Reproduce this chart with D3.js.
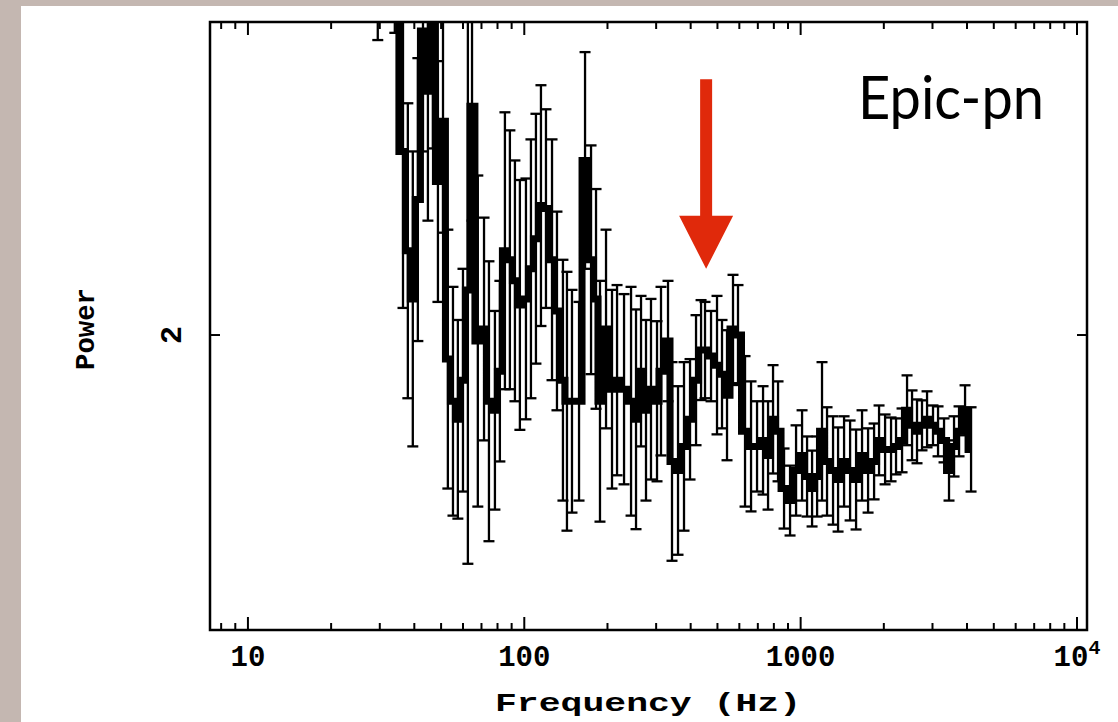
<!DOCTYPE html>
<html>
<head>
<meta charset="utf-8">
<script src="https://cdn.jsdelivr.net/npm/d3@7"></script>
<style>
  html, body { margin: 0; padding: 0; background: #c4b7b1; }
  svg { display: block; }
</style>
</head>
<body>
<svg id="chart" width="1118" height="722"></svg>
<script>
// Power density spectrum, EPIC-pn light curve
const freq = [29.5, 34.0, 36.4, 37.9, 39.5, 41.2, 43.0, 44.8, 46.7, 48.7,
  50.8, 52.9, 55.2, 57.5, 60.0, 62.5, 64.7, 67.9, 71.5, 74.5,
  78.3, 81.6, 85.1, 88.7, 92.5, 96.4, 101.4, 105.7, 110.2, 114.9,
  119.8, 126.0, 131.3, 138.0, 142.7, 148.8, 157.8, 165.9, 174.4, 181.8,
  187.9, 197.6, 207.7, 216.6, 229.6, 243.4, 253.7, 264.5, 275.7, 287.4,
  302.2, 312.4, 331.2, 342.4, 360.0, 378.4, 397.9, 418.3, 436.2, 450.8,
  474.0, 498.2, 519.4, 541.5, 569.2, 593.4, 629.2, 661.5, 695.4, 731.1,
  762.2, 794.6, 828.4, 870.9, 915.6, 962.6, 1012, 1055, 1100, 1147,
  1195, 1246, 1310, 1366, 1436, 1510, 1587, 1668, 1754, 1844,
  1922, 2021, 2124, 2214, 2328, 2427, 2530, 2637, 2749, 2867,
  3013, 3142, 3303, 3443, 3590, 3743, 3935, 4137];

const power = [2.116, 2.118, 2.061, 2.028, 2.012, 2.045, 2.101, 2.081, 2.108, 2.051,
  2.071, 1.992, 1.978, 1.972, 1.985, 2.015, 2.076, 1.998, 2.002, 1.978,
  1.975, 1.988, 2.028, 2.025, 2.018, 2.010, 2.012, 2.022, 2.032, 2.043,
  2.042, 2.025, 2.008, 1.985, 1.978, 1.978, 1.978, 2.058, 2.025, 2.012,
  1.978, 2.002, 1.982, 1.985, 1.982, 1.978, 1.972, 1.988, 1.975, 1.982,
  1.978, 1.988, 1.998, 1.958, 1.955, 1.963, 1.972, 1.985, 1.995, 1.995,
  1.993, 1.990, 1.987, 1.980, 2.002, 2.000, 1.968, 1.963, 1.963, 1.965,
  1.960, 1.972, 1.968, 1.949, 1.945, 1.955, 1.960, 1.953, 1.949, 1.953,
  1.968, 1.958, 1.955, 1.952, 1.958, 1.955, 1.952, 1.960, 1.955, 1.958,
  1.965, 1.962, 1.962, 1.963, 1.965, 1.975, 1.970, 1.968, 1.970, 1.972,
  1.970, 1.968, 1.965, 1.955, 1.963, 1.968, 1.975, 1.962];

const powerErr = [0.018, 0.0176, 0.052, 0.049, 0.049, 0.047, 0.040, 0.043, 0.046, 0.040,
  0.037, 0.043, 0.038, 0.033, 0.037, 0.091, 0.038, 0.055, 0.037, 0.0465,
  0.033, 0.030, 0.046, 0.043, 0.040, 0.0415, 0.040, 0.043, 0.0415, 0.040,
  0.033, 0.040, 0.033, 0.040, 0.043, 0.037, 0.033, 0.036, 0.038, 0.0365,
  0.040, 0.033, 0.033, 0.0316, 0.0316, 0.038, 0.0365, 0.025, 0.030, 0.030,
  0.0266, 0.028, 0.020, 0.033, 0.028, 0.028, 0.020, 0.0216, 0.0166, 0.016,
  0.015, 0.023, 0.018, 0.0216, 0.018, 0.0166, 0.025, 0.0216, 0.015, 0.018,
  0.018, 0.018, 0.0166, 0.0133, 0.0116, 0.015, 0.015, 0.0133, 0.0126, 0.0133,
  0.023, 0.018, 0.018, 0.0173, 0.015, 0.0166, 0.0166, 0.015, 0.014, 0.0126,
  0.0116, 0.0116, 0.0106, 0.0093, 0.0106, 0.0116, 0.0116, 0.0106, 0.0083, 0.0093,
  0.0066, 0.0083, 0.0073, 0.010, 0.010, 0.0083, 0.0083, 0.014];

const xMajorTicks = [10, 100, 1000, 10000];
const xMajorLabels = ["10", "100", "1000", "10"];
const yTicks = [2];
const yTickLabels = ["2"];

// QPO marker
const markerFreq = 455;
const markerTop = 2.085;
const markerTip = 2.022;

const svg = d3.select("#chart");
const W = 1118, H = 722;

// white sheet
svg.append("rect").attr("x", 21).attr("y", 6).attr("width", W - 21).attr("height", H - 6).attr("fill", "#ffffff");

const frameL = 210, frameR = 1087, frameT = 22, frameB = 630;
const x = d3.scaleLog().domain([7.29, 10870]).range([frameL, frameR]);
const y = d3.scaleLinear().domain([1.902, 2.104]).range([frameB, frameT]);

const minorTicks = x.ticks().filter(v => !xMajorTicks.includes(v) && v >= x.domain()[0] && v <= x.domain()[1]);

svg.append("clipPath").attr("id", "plotclip")
  .append("rect").attr("x", frameL).attr("y", frameT).attr("width", frameR - frameL).attr("height", frameB - frameT);

const plot = svg.append("g").attr("clip-path", "url(#plotclip)");

const pts = freq.map((f, i) => ({ f, p: power[i], e: powerErr[i] }));

// error bars
const eb = plot.append("g").attr("stroke", "#000").attr("stroke-width", 2.3).attr("fill", "none");
eb.selectAll("line.v").data(pts).join("line").attr("class", "v")
  .attr("x1", d => x(d.f)).attr("x2", d => x(d.f))
  .attr("y1", d => y(d.p + d.e)).attr("y2", d => y(d.p - d.e));
const capW = 5.5;
eb.selectAll("line.ct").data(pts).join("line").attr("class", "ct")
  .attr("x1", d => x(d.f) - capW).attr("x2", d => x(d.f) + capW)
  .attr("y1", d => y(d.p + d.e)).attr("y2", d => y(d.p + d.e));
eb.selectAll("line.cb").data(pts).join("line").attr("class", "cb")
  .attr("x1", d => x(d.f) - capW).attr("x2", d => x(d.f) + capW)
  .attr("y1", d => y(d.p - d.e)).attr("y2", d => y(d.p - d.e));

// thick spectrum trace
plot.append("path").datum(pts)
  .attr("fill", "none").attr("stroke", "#000").attr("stroke-width", 7)
  .attr("d", d3.line().x(d => x(d.f)).y(d => y(d.p)).curve(d3.curveStep));

// axes: ticks drawn inward on all four sides
const axG = svg.append("g").attr("stroke", "#000").attr("fill", "none");
function xTicksAt(yb, dir) {
  axG.append("g").selectAll("line").data(xMajorTicks).join("line")
    .attr("x1", d => x(d)).attr("x2", d => x(d))
    .attr("y1", yb).attr("y2", yb + dir * 13).attr("stroke-width", 2);
  axG.append("g").selectAll("line").data(minorTicks).join("line")
    .attr("x1", d => x(d)).attr("x2", d => x(d))
    .attr("y1", yb).attr("y2", yb + dir * 7).attr("stroke-width", 2);
}
xTicksAt(frameB, -1);
xTicksAt(frameT, 1);
axG.append("g").selectAll("line").data(yTicks).join("line")
  .attr("x1", frameL).attr("x2", frameL + 10).attr("y1", d => y(d)).attr("y2", d => y(d)).attr("stroke-width", 2);
axG.append("g").selectAll("line").data(yTicks).join("line")
  .attr("x1", frameR).attr("x2", frameR - 10).attr("y1", d => y(d)).attr("y2", d => y(d)).attr("stroke-width", 2);

svg.append("rect").attr("x", frameL).attr("y", frameT).attr("width", frameR - frameL).attr("height", frameB - frameT)
  .attr("fill", "none").attr("stroke", "#000").attr("stroke-width", 2.5);

// tick labels
const tickFont = "'Liberation Mono', 'DejaVu Sans Mono', monospace";
const xl = svg.append("g").attr("font-family", tickFont).attr("font-weight", "bold").attr("font-size", 29).attr("fill", "#000");
xMajorTicks.forEach((v, i) => {
  const t = xl.append("text").attr("x", x(v)).attr("y", 666).attr("text-anchor", "middle").text(xMajorLabels[i]);
  if (i === xMajorTicks.length - 1) {
    t.append("tspan").attr("dy", -12).attr("font-size", 20).text("4");
  }
});
svg.append("g").selectAll("text").data(yTicks).join("text")
  .attr("transform", d => `translate(181,${y(d)}) rotate(-90)`)
  .attr("text-anchor", "middle")
  .attr("font-family", tickFont).attr("font-weight", "bold").attr("font-size", 30)
  .text((d, i) => yTickLabels[i]);

// axis titles
svg.append("text").attr("x", 648).attr("y", 711).attr("text-anchor", "middle")
  .attr("font-family", tickFont).attr("font-weight", "bold").attr("font-size", 26)
  .attr("textLength", 306).attr("lengthAdjust", "spacingAndGlyphs")
  .text("Frequency (Hz)");
svg.append("text").attr("transform", "translate(94,329) rotate(-90)").attr("text-anchor", "middle")
  .attr("font-family", tickFont).attr("font-weight", "bold").attr("font-size", 28)
  .attr("textLength", 82).attr("lengthAdjust", "spacingAndGlyphs")
  .text("Power");

// arrow marking the QPO
const ax = x(markerFreq), ay0 = y(markerTop), ay1 = y(markerTip);
const headLen = 53, headHalf = 27, shaftHalf = 6;
svg.append("path").attr("fill", "#e0290b")
  .attr("d", `M${ax - shaftHalf},${ay0} L${ax + shaftHalf},${ay0} L${ax + shaftHalf},${ay1 - headLen}
    L${ax + headHalf},${ay1 - headLen} L${ax},${ay1} L${ax - headHalf},${ay1 - headLen}
    L${ax - shaftHalf},${ay1 - headLen} Z`);

// instrument label
svg.append("text").attr("x", 858).attr("y", 119)
  .attr("font-family", "Lato, 'Open Sans', sans-serif").attr("font-size", 60)
  .attr("textLength", 186).attr("lengthAdjust", "spacingAndGlyphs")
  .attr("fill", "#000").text("Epic-pn");
</script>
</body>
</html>
